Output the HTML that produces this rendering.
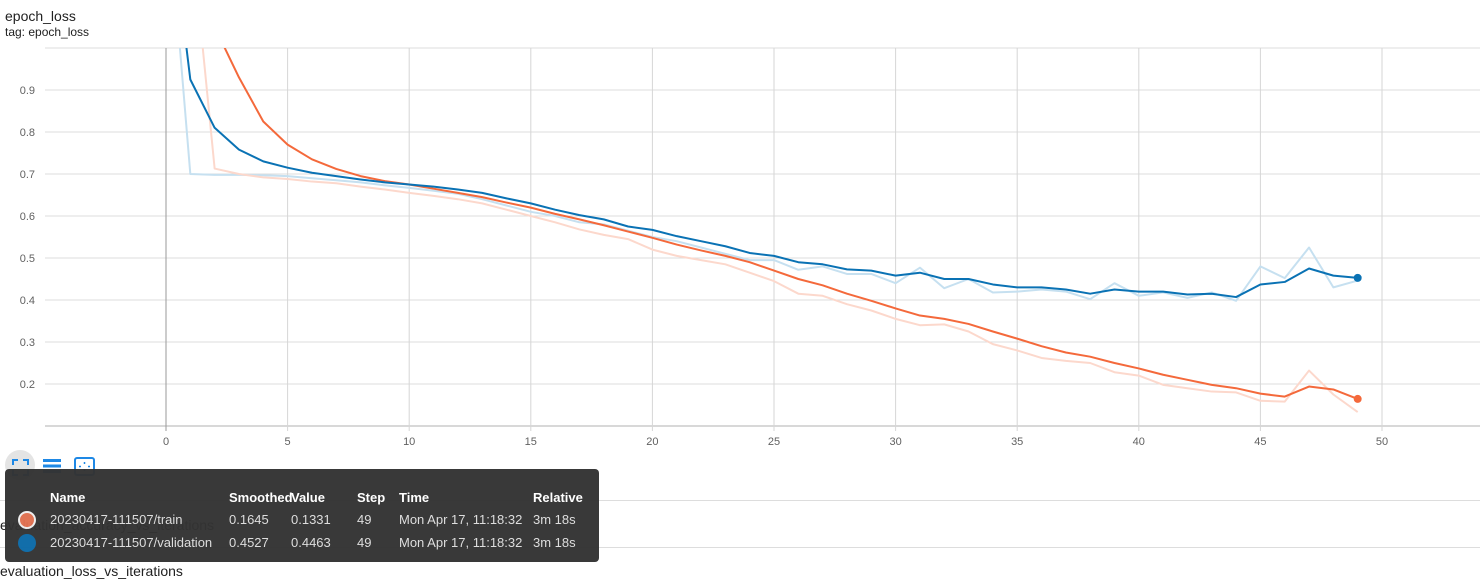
<!DOCTYPE html>
<html><head><meta charset="utf-8"><style>
body{margin:0;width:1480px;height:568px;background:#fff;font-family:"Liberation Sans",Roboto,sans-serif;overflow:hidden;position:relative}
.t{position:absolute;color:#212121}
</style></head><body>
<div class="t" style="left:5px;top:8px;font-size:14px">epoch_loss</div>
<div class="t" style="left:5px;top:25px;font-size:12px">tag: epoch_loss</div>
<svg id="chart" width="1480" height="460" style="position:absolute;left:0;top:0"></svg>
<div style="position:absolute;left:0;top:500px;width:1480px;height:1px;background:#ddd"></div>
<div class="t" style="left:0;top:517px;font-size:14px">evaluation_accuracy_vs_iterations</div>
<div style="position:absolute;left:0;top:547px;width:1480px;height:1px;background:#ddd"></div>
<div class="t" style="left:0;top:563px;font-size:14px">evaluation_loss_vs_iterations</div>
<div style="position:absolute;left:5px;top:450px;width:30px;height:30px;border-radius:15px;background:#e4e4e4"></div>
<svg style="position:absolute;left:0;top:450px" width="110" height="30">
<path d="M13 15v-5h5M23 10h5v5M28 20v5h-5M18 25h-5v-5" stroke="#1e88e5" stroke-width="2" fill="none"/>
<g fill="#1e88e5"><rect x="43" y="9" width="18" height="3"/><rect x="43" y="14.5" width="18" height="3"/><rect x="43" y="20" width="18" height="3"/></g>
<g><rect x="75" y="8" width="19" height="17" rx="2" stroke="#1e88e5" stroke-width="2" fill="none"/><path d="M84.5 12v2M84.5 19v2M79 16.5h2M88 16.5h2" stroke="#1e88e5" stroke-width="1.5"/></g>
</svg>
<div style="position:absolute;left:5px;top:469px;width:594px;height:93px;background:#333;border-radius:4px;color:#fff;font-size:13px;opacity:0.97">
<div style="position:absolute;top:21px;font-weight:bold">
<span style="position:absolute;left:45px">Name</span><span style="position:absolute;left:224px">Smoothed</span><span style="position:absolute;left:286px">Value</span><span style="position:absolute;left:352px">Step</span><span style="position:absolute;left:394px">Time</span><span style="position:absolute;left:528px">Relative</span></div>
<div style="position:absolute;top:43px;left:0;width:594px;color:#ddd;white-space:nowrap">
<span style="position:absolute;left:13px;top:-1px;width:14px;height:14px;border-radius:50%;background:#e07050;border:2px solid #eee"></span>
<span style="position:absolute;left:45px">20230417-111507/train</span><span style="position:absolute;left:224px">0.1645</span><span style="position:absolute;left:286px">0.1331</span><span style="position:absolute;left:352px">49</span><span style="position:absolute;left:394px">Mon Apr 17, 11:18:32</span><span style="position:absolute;left:528px">3m 18s</span></div>
<div style="position:absolute;top:66px;left:0;width:594px;color:#ddd;white-space:nowrap">
<span style="position:absolute;left:13px;top:-1px;width:18px;height:18px;border-radius:50%;background:#0b6aa8"></span>
<span style="position:absolute;left:45px">20230417-111507/validation</span><span style="position:absolute;left:224px">0.4527</span><span style="position:absolute;left:286px">0.4463</span><span style="position:absolute;left:352px">49</span><span style="position:absolute;left:394px">Mon Apr 17, 11:18:32</span><span style="position:absolute;left:528px">3m 18s</span></div>
</div>
<script>
const xTicks=[0,5,10,15,20,25,30,35,40,45,50];
const yTicks=[0.2,0.3,0.4,0.5,0.6,0.7,0.8,0.9];
const trainSmoothed=[1.6,1.3,1.05,0.93,0.825,0.77,0.735,0.712,0.695,0.683,0.675,0.665,0.655,0.645,0.632,0.62,0.605,0.592,0.578,0.563,0.548,0.532,0.518,0.505,0.49,0.47,0.45,0.435,0.415,0.398,0.38,0.363,0.355,0.343,0.325,0.308,0.29,0.275,0.265,0.25,0.237,0.222,0.21,0.198,0.19,0.177,0.17,0.194,0.187,0.1645];
const trainRaw=[1.6,1.3,0.713,0.70,0.692,0.688,0.682,0.678,0.67,0.663,0.655,0.648,0.64,0.63,0.615,0.60,0.585,0.568,0.555,0.545,0.52,0.505,0.495,0.485,0.465,0.445,0.415,0.41,0.39,0.375,0.355,0.34,0.342,0.325,0.295,0.28,0.262,0.255,0.25,0.228,0.22,0.198,0.19,0.182,0.18,0.16,0.158,0.232,0.175,0.1331];
const valSmoothed=[1.4,0.925,0.81,0.758,0.73,0.715,0.703,0.695,0.687,0.68,0.675,0.67,0.663,0.655,0.642,0.63,0.615,0.602,0.592,0.575,0.567,0.552,0.54,0.528,0.512,0.505,0.49,0.485,0.473,0.47,0.458,0.465,0.45,0.45,0.437,0.43,0.43,0.425,0.415,0.425,0.42,0.42,0.413,0.415,0.407,0.437,0.443,0.475,0.458,0.4527];
const valRaw=[1.4,0.70,0.698,0.698,0.697,0.695,0.69,0.685,0.68,0.673,0.667,0.66,0.653,0.64,0.625,0.61,0.6,0.585,0.58,0.565,0.55,0.54,0.525,0.51,0.495,0.495,0.472,0.48,0.462,0.462,0.44,0.477,0.428,0.45,0.418,0.42,0.425,0.42,0.402,0.44,0.41,0.418,0.405,0.418,0.398,0.48,0.452,0.525,0.43,0.4463];
const NS="http://www.w3.org/2000/svg";
const svg=document.getElementById('chart');
const L=45,R=1480,T=48,B=426;
const x=v=>166+v*24.32;
const y=v=>90+(0.9-v)*420;
function mk(tag,at){const e=document.createElementNS(NS,tag);for(const k in at)e.setAttribute(k,at[k]);svg.appendChild(e);return e;}
const defs=mk('defs',{});
const cp=document.createElementNS(NS,'clipPath');cp.setAttribute('id','clip');
const cr=document.createElementNS(NS,'rect');cr.setAttribute('x',L);cr.setAttribute('y',T);cr.setAttribute('width',R-L);cr.setAttribute('height',B-T);
cp.appendChild(cr);defs.appendChild(cp);
yTicks.forEach(v=>{
 const g=mk('line',{x1:L,x2:R,y1:y(v),y2:y(v),stroke:'#ddd','stroke-width':1});
 
 
 const t=mk('text',{x:35,y:y(v)+4,'text-anchor':'end','font-size':11,fill:'#616161','font-family':'Liberation Sans, sans-serif'});
 t.textContent=v.toFixed(1);
 
 
});
const topLine=mk('line',{x1:L,x2:R,y1:T,y2:T,stroke:'#ddd'});


const bot=mk('line',{x1:L,x2:R,y1:B,y2:B,stroke:'#ccc','stroke-width':1.5});


xTicks.forEach(v=>{
 const g=mk('line',{x1:x(v),x2:x(v),y1:T,y2:B+5,stroke:v===0?'#999':'#d6d6d6','stroke-width':1});
 
 
 const t=mk('text',{x:x(v),y:445,'text-anchor':'middle','font-size':11,fill:'#616161','font-family':'Liberation Sans, sans-serif'});
 t.textContent=v;
 
 
});
function line(arr,color,w,name){
 const p=mk('polyline',{points:arr.map((v,i)=>x(i)+','+y(v)).join(' '),fill:'none',stroke:color,'stroke-width':w,'clip-path':'url(#clip)','stroke-linejoin':'round'});
 
 
}
line(valRaw,'#c6e0f0',2,'validation-raw-line');
line(trainRaw,'#fcd8cc',2,'train-raw-line');
line(trainSmoothed,'#f4693b',2,'train-smoothed-line');
line(valSmoothed,'#0a72b4',2,'validation-smoothed-line');
const n=trainSmoothed.length-1;
const d1=mk('circle',{cx:x(n),cy:y(trainSmoothed[n]),r:4,fill:'#f4693b'});


const m=valSmoothed.length-1;
const d2=mk('circle',{cx:x(m),cy:y(valSmoothed[m]),r:4,fill:'#0a72b4'});


</script>
</body></html>
